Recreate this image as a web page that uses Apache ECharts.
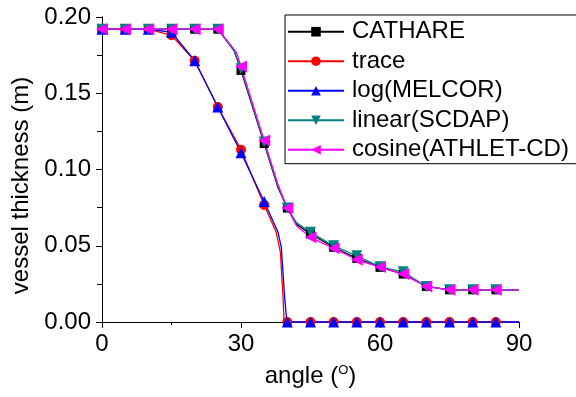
<!DOCTYPE html>
<html>
<head>
<meta charset="utf-8">
<script src="https://cdn.jsdelivr.net/npm/echarts@6/dist/echarts.min.js"></script>
<style>
  html, body { margin: 0; padding: 0; background: #fff; }
  #chart { width: 576px; height: 397px; }
</style>
</head>
<body>
<div id="chart"></div>
<script>
// Angles (degrees) at which a marker is drawn on each curve
const markerAngles = [0, 5, 10, 15, 20, 25, 30, 35, 40, 45, 50, 55, 60, 65, 70, 75, 80, 85];

// Axis ticks
const xTicks = [0, 30, 60, 90];
const yTicks = [0.00, 0.05, 0.10, 0.15, 0.20];

// CATHARE
const cathareAngle = [0, 5, 10, 15, 20, 25, 28.5, 30, 35, 38, 40, 42, 45, 50, 55, 60, 65, 70, 75, 80, 85, 90];
const cathareThk   = [0.192, 0.192, 0.192, 0.192, 0.192, 0.192, 0.178, 0.165, 0.117, 0.088, 0.0747, 0.064, 0.0577, 0.049, 0.0417, 0.0358, 0.0314, 0.0233, 0.0211, 0.0211, 0.0211, 0.0211];

// trace
const traceAngle = [0, 5, 10, 15, 20, 25, 30, 35, 37.6, 38.5, 39.1, 39.3, 40, 45, 50, 55, 60, 65, 70, 75, 80, 85, 90];
const traceThk   = [0.192, 0.192, 0.192, 0.188, 0.1713, 0.141, 0.113, 0.0768, 0.0588, 0.0457, 0.015, 0, 0, 0, 0, 0, 0, 0, 0, 0, 0, 0, 0];

// log(MELCOR)
const melcorAngle = [0, 5, 10, 15, 20, 25, 30, 35, 38, 38.7, 39.4, 39.9, 40, 45, 50, 55, 60, 65, 70, 75, 80, 85, 90];
const melcorThk   = [0.192, 0.192, 0.192, 0.190, 0.1713, 0.141, 0.111, 0.079, 0.0588, 0.049, 0.017, 0, 0, 0, 0, 0, 0, 0, 0, 0, 0, 0, 0];

// linear(SCDAP)
const scdapAngle = [0, 5, 10, 15, 20, 25, 28.5, 30, 35, 38, 40, 42, 45, 50, 55, 60, 65, 70, 75, 80, 85, 90];
const scdapThk   = [0.192, 0.192, 0.192, 0.192, 0.192, 0.192, 0.178, 0.166, 0.118, 0.089, 0.0747, 0.065, 0.0588, 0.050, 0.0434, 0.0362, 0.0329, 0.0233, 0.0211, 0.0211, 0.0211, 0.0211];

// cosine(ATHLET-CD)
const athletAngle = [0, 5, 10, 15, 20, 25, 29, 30, 35, 38, 40, 42, 45, 50, 55, 60, 65, 70, 75, 80, 85, 90];
const athletThk   = [0.192, 0.192, 0.192, 0.192, 0.192, 0.192, 0.177, 0.1675, 0.119, 0.090, 0.0747, 0.063, 0.0555, 0.0483, 0.0408, 0.036, 0.0314, 0.0233, 0.0211, 0.0211, 0.0211, 0.0211];

const seriesNames = ['CATHARE', 'trace', 'log(MELCOR)', 'linear(SCDAP)', 'cosine(ATHLET-CD)'];

function points(angles, values) {
  return angles.map((a, i) =>
    markerAngles.indexOf(a) >= 0 ? [a, values[i]] : { value: [a, values[i]], symbol: 'none' });
}

const FONT = '"Liberation Sans", Arial, sans-serif';

function makeSeries(name, angles, values, color, symbol, size, rotate) {
  return {
    name: name,
    type: 'line',
    data: points(angles, values),
    showAllSymbol: true,
    symbol: symbol,
    symbolSize: size,
    symbolRotate: rotate || 0,
    clip: false,
    lineStyle: { color: color, width: 1.3 },
    itemStyle: { color: color },
    emphasis: { disabled: true },
    animation: false
  };
}

const chart = echarts.init(document.getElementById('chart'), null, { renderer: 'canvas' });

const axisLine = { show: true, lineStyle: { color: '#000', width: 1 } };

chart.setOption({
  backgroundColor: '#fff',
  animation: false,
  textStyle: { fontFamily: FONT },
  grid: { left: 102, right: 57, top: 17, bottom: 75 },
  legend: {
    data: seriesNames,
    orient: 'vertical',
    left: 285,
    top: 15,
    itemWidth: 56,
    itemHeight: 12,
    itemGap: 5.5,
    padding: [4.7, 24, 2, 2],
    backgroundColor: '#fff',
    borderColor: '#000',
    borderWidth: 1,
    borderRadius: 0,
    selectedMode: false,
    textStyle: { fontSize: 24, color: '#000', fontFamily: FONT, lineHeight: 24, padding: [0, 0, 0, 3] }
  },
  xAxis: [
    {
      type: 'value', position: 'bottom', min: 0, max: 90, interval: 30,
      axisLine: axisLine,
      axisTick: { show: true, inside: false, length: 6, lineStyle: { color: '#000' } },
      minorTick: { show: true, splitNumber: 2, length: 3, lineStyle: { color: '#000' } },
      splitLine: { show: false },
      axisLabel: {
        fontSize: 24, color: '#000', margin: 10, fontFamily: FONT,
        formatter: v => (xTicks.indexOf(v) >= 0 ? String(v) : '')
      },
      name: 'angle ({s|O})',
      nameLocation: 'middle',
      nameGap: 42,
      nameTextStyle: {
        fontSize: 24, color: '#000', fontFamily: FONT,
        rich: { s: { fontSize: 13, color: '#000', fontFamily: FONT, padding: [0, 0, 12, 0] } }
      }
    },
    {
      type: 'value', position: 'top', min: 0, max: 90, interval: 30,
      axisLine: axisLine,
      axisTick: { show: true, inside: true, length: 5, lineStyle: { color: '#000' } },
      minorTick: { show: true, splitNumber: 2, length: 3, lineStyle: { color: '#000' } },
      splitLine: { show: false },
      axisLabel: { show: false }
    }
  ],
  yAxis: [
    {
      type: 'value', position: 'left', min: 0, max: 0.2, interval: 0.05,
      axisLine: axisLine,
      axisTick: { show: true, inside: false, length: 6, lineStyle: { color: '#000' } },
      minorTick: { show: true, splitNumber: 2, length: 3, lineStyle: { color: '#000' } },
      splitLine: { show: false },
      axisLabel: {
        fontSize: 24, color: '#000', margin: 11, fontFamily: FONT,
        formatter: v => v.toFixed(2)
      },
      name: 'vessel thickness (m)',
      nameLocation: 'middle',
      nameGap: 68,
      nameTextStyle: { fontSize: 24, color: '#000', fontFamily: FONT, padding: [0, 32, 0, 0] }
    },
    {
      type: 'value', position: 'right', min: 0, max: 0.2, interval: 0.05,
      axisLine: axisLine,
      axisTick: { show: true, inside: true, length: 5, lineStyle: { color: '#000' } },
      minorTick: { show: true, splitNumber: 2, length: 5, lineStyle: { color: '#000' } },
      splitLine: { show: false },
      axisLabel: { show: false }
    }
  ],
  series: [
    makeSeries(seriesNames[0], cathareAngle, cathareThk, '#000000', 'rect', 9),
    makeSeries(seriesNames[1], traceAngle, traceThk, '#ff0000', 'circle', 10),
    makeSeries(seriesNames[2], melcorAngle, melcorThk, '#0000ff', 'triangle', 11),
    makeSeries(seriesNames[3], scdapAngle, scdapThk, '#008080', 'triangle', 11, 180),
    makeSeries(seriesNames[4], athletAngle, athletThk, '#ff00ff', 'triangle', 12, 90)
  ]
});
</script>
</body>
</html>
